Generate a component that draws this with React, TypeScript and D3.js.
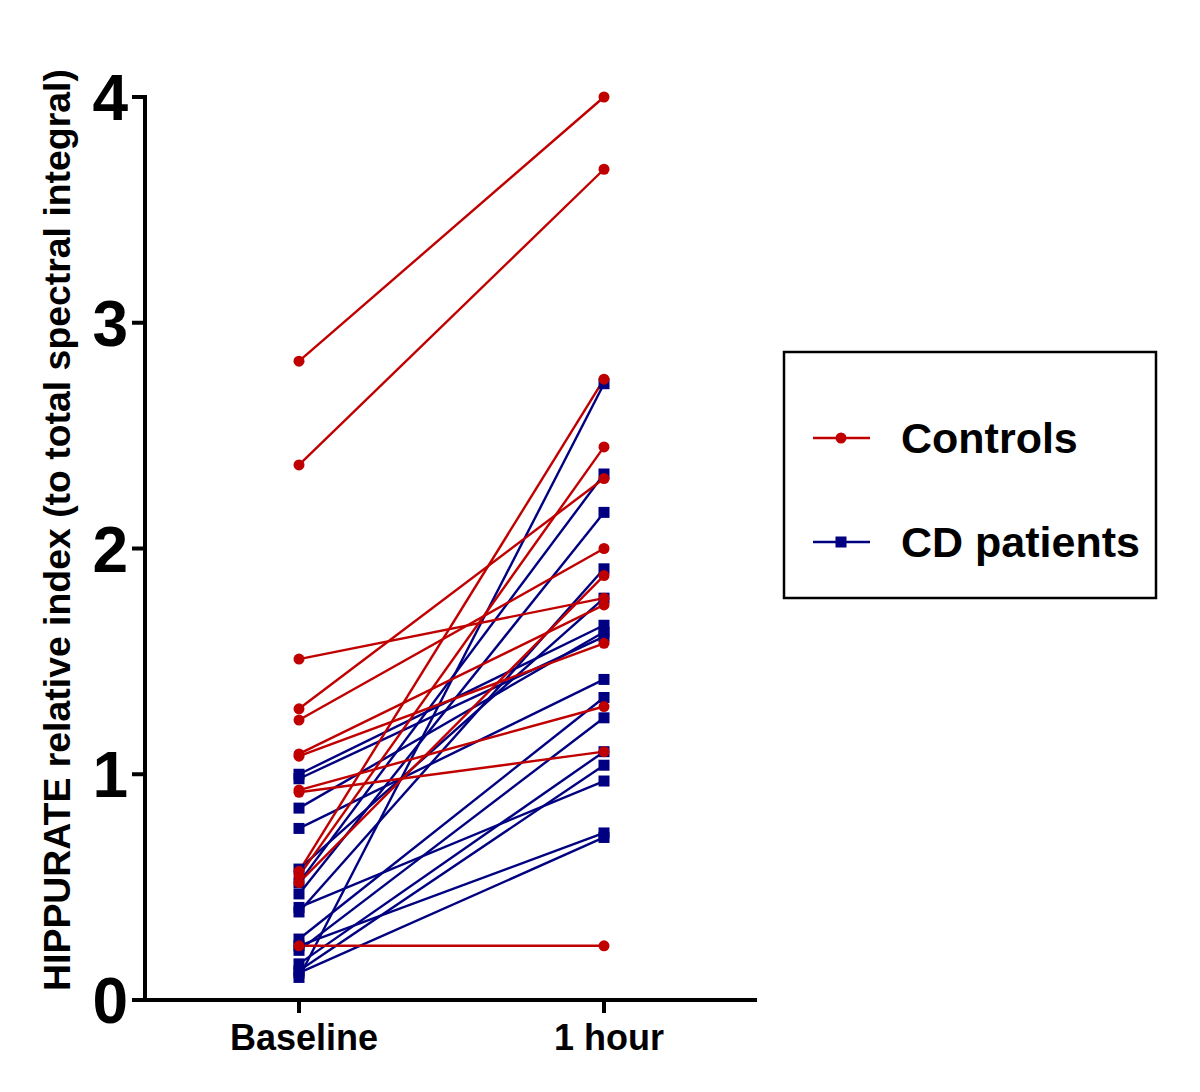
import React from 'react';
import * as d3 from 'd3';

// time points on the x axis
const timepoints = ['Baseline', '1 hour'];
const yTicks = [0, 1, 2, 3, 4];

// Controls: paired values (baseline -> 1 hour)
const controlsBaseline = [2.83, 2.37, 1.51, 1.29, 1.24, 1.09, 1.08, 0.93, 0.92, 0.57, 0.55, 0.52, 0.24];
const controlsHour = [4.0, 3.68, 1.78, 2.31, 2.0, 1.75, 1.58, 1.3, 1.1, 2.75, 2.45, 1.88, 0.24];

// CD patients: paired values (baseline -> 1 hour)
const cdBaseline = [0.1, 0.52, 0.47, 0.39, 0.58, 1.0, 0.98, 0.85, 0.76, 0.27, 0.22, 0.16, 0.13, 0.41, 0.24, 0.12];
const cdHour = [2.73, 2.33, 2.16, 1.91, 1.78, 1.66, 1.61, 1.63, 1.42, 1.34, 1.25, 1.1, 1.04, 0.97, 0.74, 0.72];

const RED = '#c00000';
const BLUE = '#000080';
const FONT = '"Liberation Sans", Arial, sans-serif';

const App: React.FC = () => {
  const width = 1200;
  const height = 1092;

  const y = d3.scaleLinear().domain([0, 4]).range([1000, 97]);
  const x = d3.scalePoint<string>().domain(timepoints).range([299, 604]);
  const axisLeft = 145;
  const axisRight = 757;

  const line = d3.line<[string, number]>()
    .x(d => x(d[0]) as number)
    .y(d => y(d[1]));

  const controlPairs = controlsBaseline.map((b, i) => [[timepoints[0], b], [timepoints[1], controlsHour[i]]] as [string, number][]);
  const cdPairs = cdBaseline.map((b, i) => [[timepoints[0], b], [timepoints[1], cdHour[i]]] as [string, number][]);

  return (
    <svg
      width={width}
      height={height}
      style={{ display: 'block', background: '#fff', position: 'absolute', left: 0, top: 0 }}
      fontFamily={FONT}
    >
      {/* y axis */}
      <line x1={axisLeft} x2={axisLeft} y1={y(4) - 2} y2={y(0) + 2} stroke="#000" strokeWidth={4} />
      {yTicks.map(t => (
        <g key={t}>
          <line x1={axisLeft - 13} x2={axisLeft} y1={y(t)} y2={y(t)} stroke="#000" strokeWidth={4} />
          <text x={128} y={y(t)} dy="0.36em" textAnchor="end" fontSize={64} fontWeight="bold">{t}</text>
        </g>
      ))}
      {/* x axis */}
      <line x1={axisLeft - 2} x2={axisRight} y1={y(0)} y2={y(0)} stroke="#000" strokeWidth={4} />
      {timepoints.map(t => (
        <g key={t}>
          <line x1={x(t)} x2={x(t)} y1={y(0)} y2={y(0) + 13} stroke="#000" strokeWidth={4} />
          <text x={(x(t) as number) + 5} y={1050} textAnchor="middle" fontSize={36} fontWeight="bold">{t}</text>
        </g>
      ))}
      {/* y axis title */}
      <text transform="translate(70,530) rotate(-90)" textAnchor="middle" fontSize={37.4} fontWeight="bold">
        HIPPURATE relative index (to total spectral integral)
      </text>

      {/* CD patients */}
      {cdPairs.map((p, i) => (
        <path key={`cl${i}`} d={line(p) || ''} fill="none" stroke={BLUE} strokeWidth={2.4} />
      ))}
      {/* Controls */}
      {controlPairs.map((p, i) => (
        <path key={`rl${i}`} d={line(p) || ''} fill="none" stroke={RED} strokeWidth={2.4} />
      ))}
      {cdPairs.flat().map((d, i) => (
        <rect key={`cs${i}`} x={(x(d[0]) as number) - 5.5} y={y(d[1]) - 5.5} width={11} height={11} fill={BLUE} />
      ))}
      {controlPairs.flat().map((d, i) => (
        <circle key={`rc${i}`} cx={x(d[0]) as number} cy={y(d[1])} r={5.5} fill={RED} />
      ))}

      {/* legend */}
      <rect x={784} y={352} width={372} height={246} fill="#fff" stroke="#000" strokeWidth={2.5} />
      <line x1={813} x2={870} y1={438} y2={438} stroke={RED} strokeWidth={2.4} />
      <circle cx={841} cy={438} r={5.5} fill={RED} />
      <text x={901} y={453} fontSize={43} fontWeight="bold">Controls</text>
      <line x1={813} x2={870} y1={542} y2={542} stroke={BLUE} strokeWidth={2.4} />
      <rect x={835.5} y={536.5} width={11} height={11} fill={BLUE} />
      <text x={901} y={557} fontSize={43} fontWeight="bold">CD patients</text>
    </svg>
  );
};

export default App;
